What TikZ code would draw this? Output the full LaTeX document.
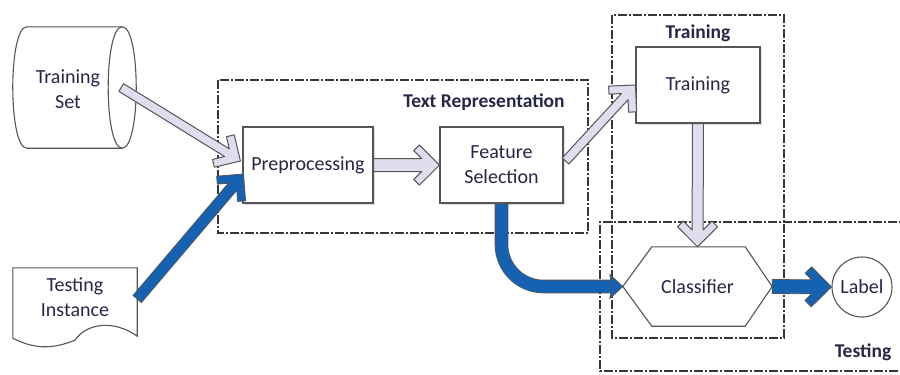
\documentclass[tikz,border=0pt]{standalone}
\usepackage{fontspec}
\setmainfont{Carlito}
\usetikzlibrary{calc,shadows}
\definecolor{txt}{RGB}{38,38,72}
\definecolor{lav}{RGB}{226,221,238}
\definecolor{edge}{RGB}{85,85,85}
\definecolor{bluearr}{RGB}{22,98,178}
\definecolor{grp}{RGB}{55,55,55}
\newcommand{\fatarrow}[6][]{%
  \path[#1] let \p1=(#2), \p2=(#3), \n1={atan2(\y2-\y1,\x2-\x1)}, \n2={veclen(\x2-\x1,\y2-\y1)} in
  [shift={(\p2)}, rotate=\n1]
  (-\n2,#4) -- ({-(1.4142*#6+#4)},#4) -- ({-#5-0.7071*#6},{#5-0.7071*#6}) -- (-#5,#5) -- (0,0)
  -- (-#5,-#5) -- ({-#5-0.7071*#6},{-#5+0.7071*#6}) -- ({-(1.4142*#6+#4)},-#4) -- (-\n2,-#4) -- cycle;}
\begin{document}
\begin{tikzpicture}[x=1pt,y=-1pt,
  every node/.style={font=\fontsize{20}{25}\selectfont, text=txt},
  procbox/.style={draw=edge, line width=1.1pt, fill=white, align=center,
    drop shadow={opacity=0.25, shadow xshift=2pt, shadow yshift=-2pt}},
  shapeline/.style={draw=edge, line width=1.1pt, fill=white},
  grpbox/.style={draw=grp, line width=2.3pt, dash pattern=on 9pt off 2pt on 2pt off 2pt},
  grptitle/.style={font=\bfseries\fontsize{19.5}{24}\selectfont},
  lavarr/.style={fill=lav, draw=edge, line width=1pt, line join=round},
  bluefat/.style={fill=bluearr, draw=edge, line width=0.8pt, line join=round}]
\useasboundingbox (0,0) rectangle (900,375);

% group boxes
\draw[grpbox] (218,80) rectangle (588,233);
\draw[grpbox] (612,15) rectangle (784,338);
\draw[grpbox] (912,222) -- (600,222) -- (600,371) -- (912,371);
\node[grptitle] (ttextrep) at (484,102) {Text Representation};
\node[grptitle] (ttrain) at (698,33) {Training};
\node[grptitle] (ttest) at (863,352) {Testing};

% Training Set (horizontal cylinder)
\node[minimum width=123pt, minimum height=121pt, inner sep=0pt] (tset) at (74.5,87.5) {};
\draw[shapeline] ($(tset.north west)+(14,0)$) -- ($(tset.north east)+(-14,0)$)
  .. controls ($(tset.north east)+(4.7,0)$) and ($(tset.south east)+(4.7,0)$) .. ($(tset.south east)+(-14,0)$)
  -- ($(tset.south west)+(14,0)$)
  .. controls ($(tset.south west)+(-4.7,0)$) and ($(tset.north west)+(-4.7,0)$) .. cycle;
\draw[shapeline, fill=none] ($(tset.north east)+(-14,0)$)
  .. controls ($(tset.north east)+(-32.7,0)$) and ($(tset.south east)+(-32.7,0)$) .. ($(tset.south east)+(-14,0)$);
\node[align=center] (tsettext) at (68,89) {Training\\Set};

% Testing Instance (document)
\node[minimum width=124pt, minimum height=62pt, inner sep=0pt] (tinst) at (75,299) {};
\draw[shapeline] (tinst.north west) -- (tinst.north east) -- ($(tinst.south east)+(0,6)$)
  .. controls ($(tinst.south east)+(-22,-10)$) and ($(tinst.south east)+(-50,-8)$) .. ($(tinst.south)+(0,10)$)
  .. controls ($(tinst.south)+(-25,20)$) and ($(tinst.south west)+(20,18)$) .. ($(tinst.south west)+(0,8)$) -- cycle;
\node[align=center] (tinsttext) at (75,297.5) {Testing\\Instance};

\node[procbox, minimum width=130pt, minimum height=76pt] (pre) at (308,165) {Preprocessing};
\node[procbox, minimum width=123pt, minimum height=76pt] (fs) at (501.5,165) {Feature\\Selection};
\node[procbox, minimum width=124pt, minimum height=76pt] (train) at (698,85) {Training};
\node[minimum width=149pt, minimum height=79pt, inner sep=0pt] (cls) at (697.5,286.5) {};
\draw[shapeline] (cls.west) -- ($(cls.north west)+(29,0)$) -- ($(cls.north east)+(-27,0)$)
  -- (cls.east) -- ($(cls.south east)+(-27,0)$) -- ($(cls.south west)+(29,0)$) -- cycle;
\node (clstext) at (cls.center) {Classifier};
\node[circle, draw=edge, line width=1.1pt, fill=white, minimum size=60pt, inner sep=0pt] (lbl) at (862,287) {Label};

% connectors
\coordinate (tsetout) at ($(tset.east)+(-15,0)$);
\coordinate (prein1) at ($(pre.west)+(-2,-4)$);
\coordinate (prein2) at ($(pre.west)+(1,9)$);
\coordinate (fsout) at ($(fs.east)+(2,-4)$);
\fatarrow[lavarr]{tsetout}{prein1}{4.5}{19}{8}
\fatarrow[bluefat]{tinst.east}{prein2}{5.5}{19}{8}
\fatarrow[lavarr]{pre.east}{fs.west}{6.5}{20}{8}
\fatarrow[lavarr]{fsout}{train.west}{4.5}{19}{8}
\fatarrow[lavarr]{train.south}{cls.north}{5.5}{20}{8}
\fatarrow[bluefat]{cls.east}{lbl.west}{7}{20}{9}

\coordinate (clsin) at ($(cls.west)+(-10,0)$);
\draw[edge, line width=13.6pt, rounded corners=42pt] (fs.south) |- (clsin);
\draw[bluearr, line width=12pt, rounded corners=42pt] ($(fs.south)+(0,0.8)$) |- (clsin);
\draw[bluefat] ($(cls.west)+(-13,-12)$) -- (cls.west) -- ($(cls.west)+(-13,12)$) -- ($(cls.west)+(-11,0)$) -- cycle;
\end{tikzpicture}
\end{document}
